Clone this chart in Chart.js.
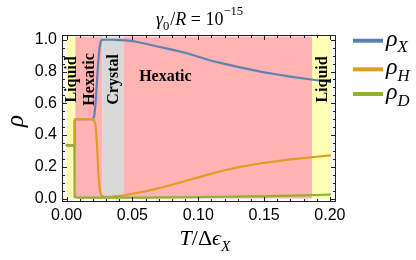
<!DOCTYPE html>
<html>
<head>
<meta charset="utf-8">
<script src="https://cdn.jsdelivr.net/npm/chart.js@4.4.1/dist/chart.umd.min.js"></script>
<style>
  html, body { margin: 0; padding: 0; background: #fff; }
  #wrap { position: relative; width: 416px; height: 260px; }
</style>
</head>
<body>
<div id="wrap"><canvas id="phaseChart" width="416" height="260"></canvas></div>
<script>
// temperature grid T/Δε_X
const tVals = [0, 0.0059, 0.0061, 0.0066, 0.01, 0.015, 0.02, 0.021, 0.022, 0.023,
  0.024, 0.025, 0.026, 0.027, 0.028, 0.03, 0.035, 0.04, 0.045, 0.05,
  0.06, 0.07, 0.08, 0.09, 0.1, 0.11, 0.12, 0.13, 0.14, 0.15,
  0.16, 0.17, 0.18, 0.19, 0.2];
const rhoX = [0.335, 0.335, 0.49, 0.5, 0.5, 0.5, 0.5, 0.52, 0.6, 0.73,
  0.86, 0.95, 0.99, 1.0, 1.0, 1.0, 1.0, 0.998, 0.996, 0.992,
  0.975, 0.956, 0.938, 0.918, 0.893, 0.868, 0.848, 0.829, 0.812, 0.795,
  0.781, 0.768, 0.756, 0.745, 0.735];
const rhoH = [0.335, 0.335, 0.49, 0.5, 0.5, 0.5, 0.5, 0.49, 0.46, 0.35,
  0.18, 0.06, 0.025, 0.015, 0.012, 0.011, 0.012, 0.016, 0.022, 0.03,
  0.045, 0.065, 0.087, 0.11, 0.133, 0.157, 0.178, 0.196, 0.211, 0.225,
  0.236, 0.246, 0.254, 0.263, 0.272];
const rhoD = [0.335, 0.335, 0.01, 0.008, 0.006, 0.005, 0.005, 0.005, 0.005, 0.005,
  0.005, 0.005, 0.005, 0.005, 0.005, 0.005, 0.005, 0.005, 0.005, 0.006,
  0.006, 0.007, 0.007, 0.008, 0.009, 0.01, 0.011, 0.012, 0.013, 0.014,
  0.016, 0.018, 0.02, 0.022, 0.024];

// phase regions
const phaseNames = ["Liquid", "Hexatic", "Crystal", "Hexatic", "Liquid"];
const phaseBounds = [0, 0.0066, 0.027, 0.0432, 0.1865, 0.2005];

const xTickValues = [0, 0.05, 0.1, 0.15, 0.2];
const xTickLabels = ["0.00", "0.05", "0.10", "0.15", "0.20"];
const yTickValues = [0, 0.2, 0.4, 0.6, 0.8, 1.0];
const yTickLabels = ["0.0", "0.2", "0.4", "0.6", "0.8", "1.0"];

const seriesColors = ["#5E81B5", "#E19C24", "#8FB032"];
const phaseColors = {
  Liquid: "rgb(255,255,179)",
  Hexatic: "rgb(255,179,179)",
  Crystal: "rgb(216,216,216)",
};
const SERIF = '"Liberation Serif", "DejaVu Serif", serif';

function pts(arr) {
  return tVals.map((t, i) => ({ x: t, y: arr[i] }));
}

// draws a run of text pieces, some italic / sub / sup
function drawRich(ctx, parts, x, y, size, align) {
  const fontFor = (p) => {
    const s = p.sub || p.sup ? size * 0.7 : size;
    return (p.i ? "italic " : "") + s + "px " + SERIF;
  };
  let w = 0;
  parts.forEach((p) => {
    ctx.font = fontFor(p);
    w += ctx.measureText(p.t).width + (p.gap || 0);
  });
  let cx = align === "center" ? x - w / 2 : x;
  ctx.textAlign = "left";
  ctx.textBaseline = "alphabetic";
  ctx.fillStyle = "#000";
  parts.forEach((p) => {
    ctx.font = fontFor(p);
    const dy = p.sub ? size * 0.28 : p.sup ? -size * 0.55 : 0;
    ctx.fillText(p.t, cx, y + dy);
    cx += ctx.measureText(p.t).width + (p.gap || 0);
  });
}

const phasePlugin = {
  id: "phases",
  beforeDatasetsDraw(chart) {
    const { ctx } = chart;
    const xs = chart.scales.x, ys = chart.scales.y;
    const yTop = ys.getPixelForValue(1.02), yBot = ys.getPixelForValue(0);
    ctx.save();
    phaseNames.forEach((name, i) => {
      const x0 = xs.getPixelForValue(phaseBounds[i]);
      const x1 = xs.getPixelForValue(phaseBounds[i + 1]);
      ctx.fillStyle = phaseColors[name];
      ctx.fillRect(x0, yTop, x1 - x0, yBot - yTop);
    });
    ctx.restore();
  },
  afterDatasetsDraw(chart) {
    const { ctx } = chart;
    const xs = chart.scales.x, ys = chart.scales.y;
    ctx.save();
    ctx.fillStyle = "#000";
    ctx.font = "bold 16px " + SERIF;
    ctx.textAlign = "center";
    ctx.textBaseline = "middle";
    const yl = ys.getPixelForValue(0.75);
    phaseNames.forEach((name, i) => {
      const mid = (phaseBounds[i] + phaseBounds[i + 1]) / 2;
      if (i === 3) {
        // wide hexatic band: horizontal label
        ctx.fillText(name, xs.getPixelForValue(0.075), ys.getPixelForValue(0.765));
        return;
      }
      ctx.save();
      ctx.translate(xs.getPixelForValue(mid) + 1, yl);
      ctx.rotate(-Math.PI / 2);
      ctx.fillText(name, 0, 0);
      ctx.restore();
    });
    ctx.restore();
  },
  afterDraw(chart) {
    const { ctx } = chart;
    const { left, right, top, bottom } = chart.chartArea;
    const xs = chart.scales.x, ys = chart.scales.y;
    ctx.save();
    ctx.strokeStyle = "#222";
    ctx.lineWidth = 1;
    ctx.strokeRect(Math.round(left) + 0.5, Math.round(top) + 0.5,
      Math.round(right - left) - 1, Math.round(bottom - top) - 1);
    ctx.beginPath();
    for (let k = 0; k <= 20; k++) {
      const px = Math.round(xs.getPixelForValue(k / 100)) + 0.5;
      const len = k % 5 === 0 ? 5 : 3;
      ctx.moveTo(px, bottom); ctx.lineTo(px, bottom - len);
      ctx.moveTo(px, top); ctx.lineTo(px, top + len);
    }
    for (let k = 0; k <= 20; k++) {
      const py = Math.round(ys.getPixelForValue(k / 20)) + 0.5;
      const len = k % 4 === 0 ? 5 : 3;
      ctx.moveTo(left, py); ctx.lineTo(left + len, py);
      ctx.moveTo(right, py); ctx.lineTo(right - len, py);
    }
    ctx.stroke();

    // title
    drawRich(ctx, [
      { t: "γ", i: true }, { t: "0", sub: true, gap: 1 }, { t: "/" },
      { t: "R", i: true }, { t: " = 10" }, { t: "−15", sup: true },
    ], 199.5, 25, 18, "center");

    // x axis title
    drawRich(ctx, [
      { t: "T", i: true }, { t: "/" }, { t: "Δ" }, { t: "ϵ", i: true },
      { t: "X", i: true, sub: true },
    ], 205, 245, 22, "center");

    // y axis title
    ctx.save();
    ctx.translate(23, 121);
    ctx.rotate(-Math.PI / 2);
    drawRich(ctx, [{ t: "ρ", i: true }], 0, 0, 25, "center");
    ctx.restore();

    // legend
    const legendY = [40.7, 69.3, 94];
    const subs = ["X", "H", "D"];
    legendY.forEach((cy, i) => {
      ctx.fillStyle = seriesColors[i];
      ctx.fillRect(353, cy - 2, 30, 4);
      drawRich(ctx, [{ t: "ρ", i: true }, { t: subs[i], i: true, sub: true }],
        386, cy + 5, 24, "left");
    });
    ctx.restore();
  },
};

const ctx = document.getElementById("phaseChart").getContext("2d");

const chart = new Chart(ctx, {
  type: "line",
  data: {
    datasets: [
      {
        label: "ρX",
        data: pts(rhoX),
        borderColor: seriesColors[0],
        order: 2,
      },
      {
        label: "ρH",
        data: pts(rhoH),
        borderColor: seriesColors[1],
        order: 1,
      },
      {
        label: "ρD",
        data: pts(rhoD),
        borderColor: seriesColors[2],
        order: 0,
      },
    ],
  },
  options: {
    responsive: false,
    devicePixelRatio: 1,
    animation: false,
    layout: { padding: { top: 35, right: 80, left: 0, bottom: 0 } },
    elements: {
      line: { borderWidth: 2.2, tension: 0, borderCapStyle: "round", borderJoinStyle: "round" },
      point: { radius: 0 },
    },
    plugins: { legend: { display: false }, tooltip: { enabled: false } },
    scales: {
      x: {
        type: "linear",
        min: -0.0035,
        max: 0.2046,
        grid: { display: false, drawTicks: false },
        border: { display: false },
        afterBuildTicks: (s) => { s.ticks = xTickValues.map((v) => ({ value: v })); },
        afterFit: (s) => { s.height = 58; },
        ticks: {
          autoSkip: false,
          maxRotation: 0,
          padding: 4,
          color: "#000",
          font: { family: '"Liberation Sans", Arial, sans-serif', size: 16 },
          callback: (v, i) => xTickLabels[i],
        },
      },
      y: {
        min: -0.022,
        max: 1.03,
        grid: { display: false, drawTicks: false },
        border: { display: false },
        afterBuildTicks: (s) => { s.ticks = yTickValues.map((v) => ({ value: v })); },
        afterFit: (s) => { s.width = 62; },
        ticks: {
          autoSkip: false,
          padding: 5,
          color: "#000",
          font: { family: '"Liberation Sans", Arial, sans-serif', size: 16 },
          callback: (v, i) => yTickLabels[i],
        },
      },
    },
  },
  plugins: [phasePlugin],
});
</script>
</body>
</html>
